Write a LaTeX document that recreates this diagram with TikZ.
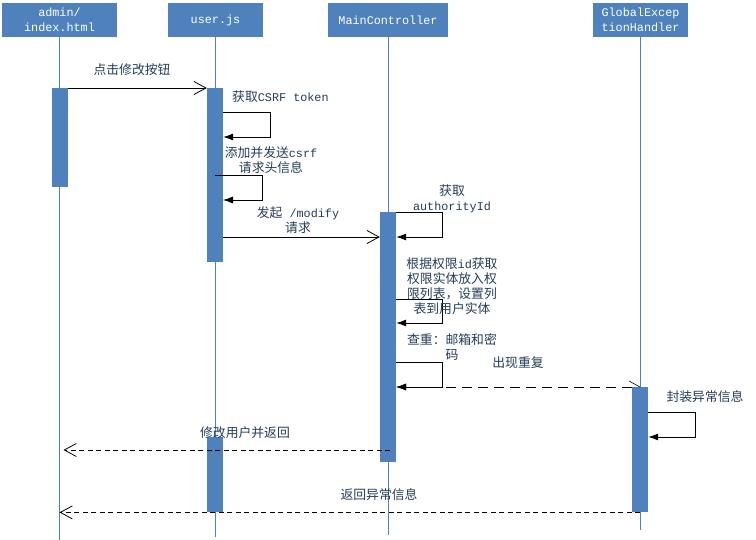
\documentclass[tikz,border=0pt]{standalone}
\usepackage{fontspec}
\setmainfont{Liberation Mono}
\newfontfamily\cjkfont[Scale=1.087]{Noto Sans CJK SC}
\usetikzlibrary{arrows.meta}
\definecolor{hdr}{HTML}{4F81BD}
\definecolor{lbl}{HTML}{253D5A}
\newcommand\cj[1]{{\cjkfont #1}}
\begin{document}
\begin{tikzpicture}[x=1pt,y=-1pt,
 every node/.style={font=\fontsize{11.8}{15}\selectfont, text=lbl, inner sep=0pt},
 head/.style={fill=hdr, text=white, minimum height=34pt, align=center},
 life/.style={draw=hdr, line width=0.8pt},
 bar/.style={fill=hdr, minimum width=16pt, anchor=north},
 msg/.style={draw=black, line width=0.8pt, -{Straight Barb[length=12pt,width=13pt]}},
 ret/.style={msg, dash pattern=on 5pt off 3.5pt},
 self/.style={draw=black, line width=0.8pt, -{Latex[length=10pt,width=7pt]}},
 lab/.style={align=center},
]
\useasboundingbox (0,0) rectangle (756,540);
\fill[white] (0,0) rectangle (756,540);
% headers
\node[head, minimum width=115pt] (A) at (59.5,20) {admin/\\index.html};
\node[head, minimum width=95pt] (U) at (215.5,20) {user.js};
\node[head, minimum width=120pt] (M) at (388,20) {MainController};
\node[head, minimum width=95pt] (G) at (640.5,20) {GlobalExcep\\tionHandler};
% lifelines
\coordinate (Aend) at (59.5,540);
\coordinate (Uend) at (215.5,537);
\coordinate (Mend) at (388,535);
\coordinate (Gend) at (640.5,530);
\draw[life] (A.south) -- (Aend);
\draw[life] (U.south) -- (Uend);
\draw[life] (M.south) -- (Mend);
\draw[life] (G.south) -- (Gend);
% activation bars
\node[bar, minimum height=99pt] (A1) at (60,88) {};
\node[bar, minimum height=174pt] (U1) at (215,88) {};
\node[bar, minimum height=75pt] (U2) at (215,437) {};
\node[bar, minimum height=250pt] (M1) at (388,212) {};
\node[bar, minimum height=125pt] (G1) at (640,387) {};
% messages
\draw[msg] (A1.north east) -- (U1.north west);
\node[lab] (l1) at (132,70) {\cj{点击修改按钮}};
\draw[self] ([yshift=-24pt]U1.north east) -- ++(47,0) -- ++(0,25) -- ++(-47,0);
\node[anchor=west] (l2) at (232,97) {\cj{获取}CSRF token};
\draw[self] ([yshift=-87pt]U1.north) -- ++(47,0) -- ++(0,25) -- ++(-39,0);
\node[lab] (l3) at (271,160) {\cj{添加并发送}csrf\\\cj{请求头信息}};
\draw[msg] ([yshift=-149pt]U1.north east) -- ([yshift=-25pt]M1.north west);
\node[lab] (l4) at (298,220) {\cj{发起} /modify\\\cj{请求}};
\draw[self] (M1.north east) -- ++(46,0) -- ++(0,25) -- ++(-46,0);
\node[lab] (l5) at (452,199) {\cj{获取}\\authorityId};
\draw[self] ([yshift=-87pt]M1.north east) -- ++(46,0) -- ++(0,24) -- ++(-46,0);
\node[lab] (l6) at (452,286) {\cj{根据权限}id\cj{获取}\\\cj{权限实体放入权}\\\cj{限列表，设置列}\\\cj{表到用户实体}};
\draw[self] ([yshift=-150pt]M1.north east) -- ++(46,0) -- ++(0,25) -- ++(-46,0);
\node[lab] (l7) at (452,347) {\cj{查重：邮箱和密}\\\cj{码}};
\draw[self, dash pattern=on 10pt off 6pt] (G1.north west) -- ([yshift=-175pt]M1.north east);
\draw[black, line width=0.6pt] (G1.north) -- ++(-11,-6);
\node[lab] (l8) at (518,363) {\cj{出现重复}};
\draw[self] ([yshift=-25pt]G1.north east) -- ++(47,0) -- ++(0,25) -- ++(-47,0);
\node[lab] (l9) at (705,397) {\cj{封装异常信息}};
\coordinate (r1s) at (390,450);
\draw[ret] (r1s) -- ([xshift=4pt]A.south |- r1s);
\node[lab] (l10) at (245,433) {\cj{修改用户并返回}};
\draw[ret] (G1.south) -- (A.south |- G1.south);
\node[lab] (l11) at (379,495) {\cj{返回异常信息}};
\end{tikzpicture}
\end{document}
